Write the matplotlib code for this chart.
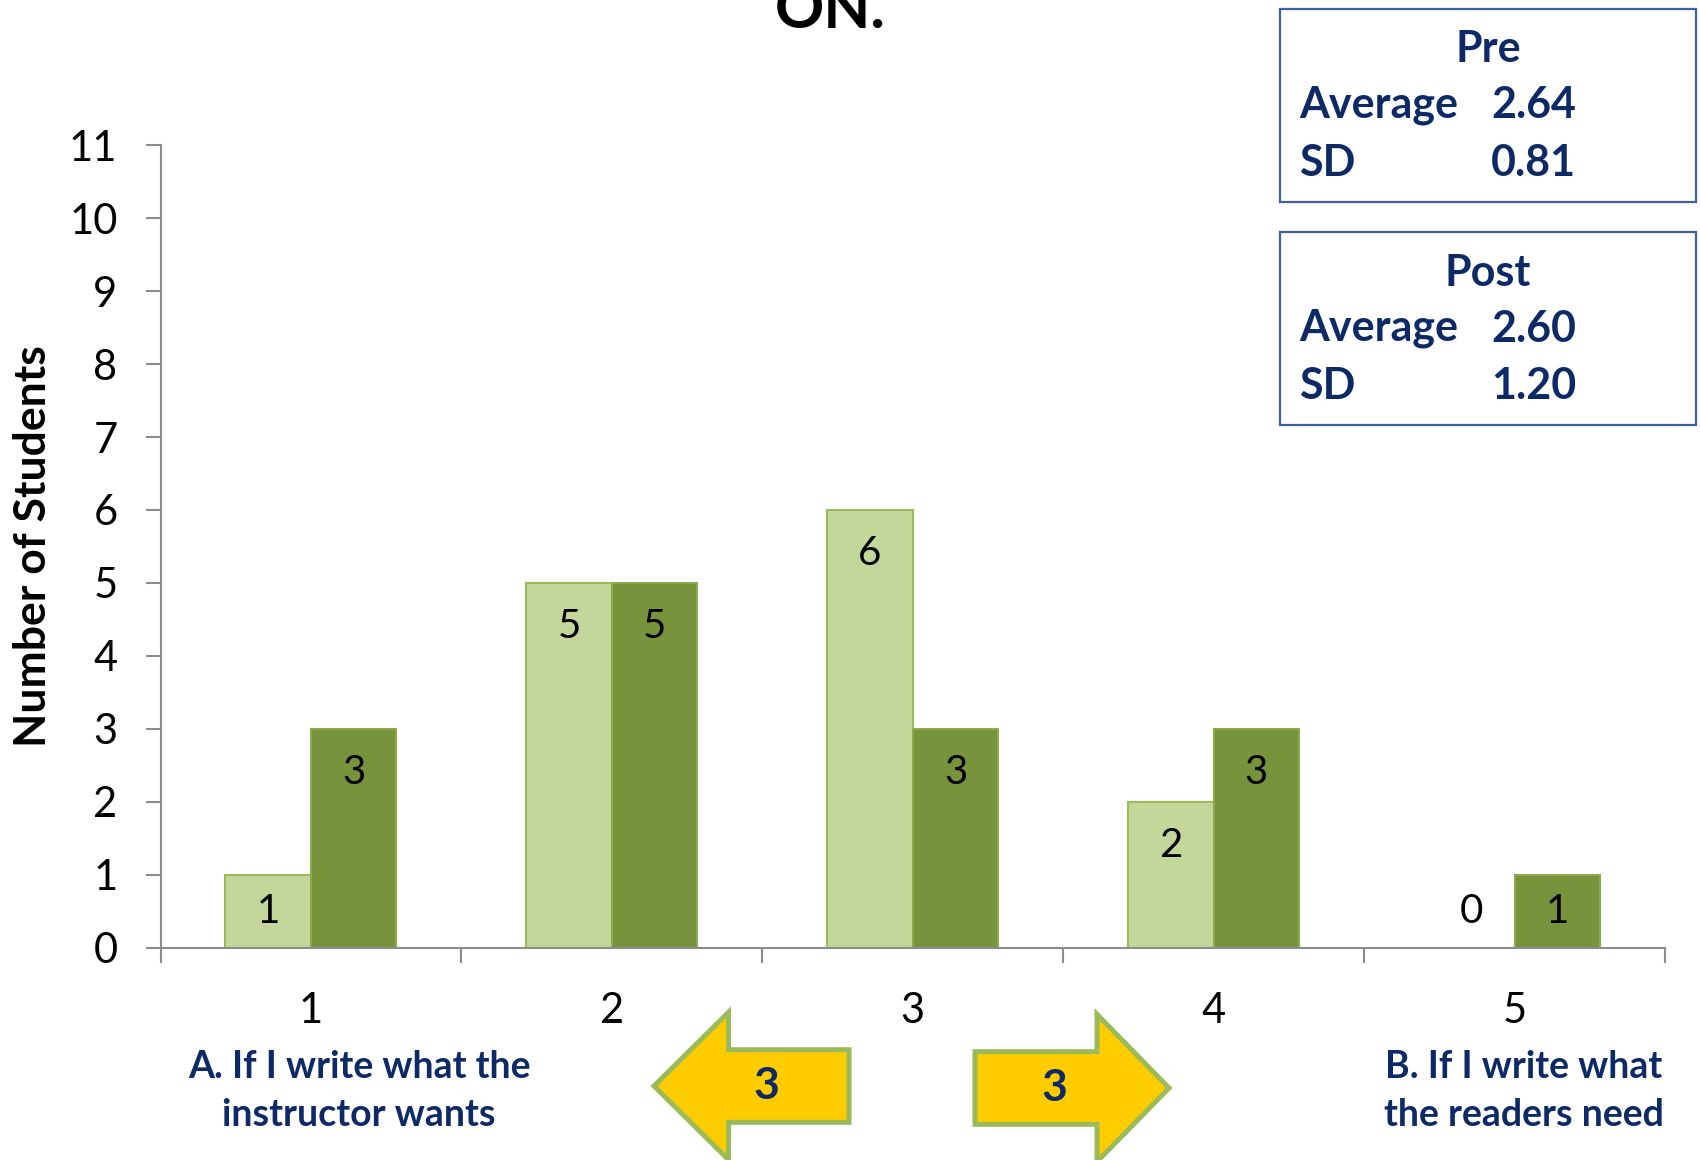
import matplotlib
matplotlib.use("Agg")
import matplotlib.pyplot as plt
from matplotlib.patches import Polygon, Rectangle
import numpy as np

plt.rcParams['font.family'] = ['Lato', 'DejaVu Sans']

# ---- data ----
categories = ["1", "2", "3", "4", "5"]
pre_counts = [1, 5, 6, 2, 0]
post_counts = [3, 5, 3, 3, 1]
y_ticks = list(range(0, 12))
left_anchor = "A. If I write what the\ninstructor wants"
right_anchor = "B. If I write what\nthe readers need"
pre_stats = {"Average": "2.64", "SD": "0.81"}
post_stats = {"Average": "2.60", "SD": "1.20"}
shift_left = "3"
shift_right = "3"

NAVY = "#0E2A66"
PRE_FILL = "#C4D79B"
PRE_EDGE = "#9BBB59"
POST_FILL = "#77933C"
POST_EDGE = "#8AAA4C"
AXIS_GRAY = "#8C8C8C"

W, H = 1700, 1160
fig = plt.figure(figsize=(W / 100, H / 100), dpi=100)

def fx(px):
    return px / W

def fy(py):
    return 1 - py / H

ax_left, ax_right, ax_top, ax_bot = 160.5, 1665, 145.3, 947.6
ax = fig.add_axes([fx(ax_left), fy(ax_bot), fx(ax_right - ax_left), (ax_bot - ax_top) / H])

x = np.arange(len(categories))
bw = 0.284
ax.bar(x - bw / 2, pre_counts, width=bw, color=PRE_FILL, edgecolor=PRE_EDGE, linewidth=1.5, zorder=2)
ax.bar(x + bw / 2, post_counts, width=bw, color=POST_FILL, edgecolor=POST_EDGE, linewidth=1.5, zorder=2)

# value labels sit just inside the bar tops (mid-bar for short bars)
for xs, vals in ((x - bw / 2, pre_counts), (x + bw / 2, post_counts)):
    for xi, v in zip(xs, vals):
        ax.text(xi, max(v - 0.6, 0.5), str(v), ha='center', va='center',
                fontsize=29, color='black', zorder=3)

ax.set_xlim(-0.5, len(categories) - 0.5)
ax.set_ylim(0, 11)
ax.set_yticks(y_ticks)
ax.set_yticklabels([str(t) for t in y_ticks], fontsize=30)
ax.tick_params(axis='y', direction='out', length=11, width=1.5, color=AXIS_GRAY, pad=20)

ax.set_xticks(np.arange(-0.5, len(categories)), minor=False)
ax.set_xticklabels([])
ax.tick_params(axis='x', which='major', direction='out', length=11, width=1.5, color=AXIS_GRAY)
ax.set_xticks(x, minor=True)
ax.set_xticklabels(categories, minor=True, fontsize=30)
ax.tick_params(axis='x', which='minor', length=0, pad=32)

for s in ('top', 'right'):
    ax.spines[s].set_visible(False)
for s in ('left', 'bottom'):
    ax.spines[s].set_color(AXIS_GRAY)
    ax.spines[s].set_linewidth(1.5)

fig.text(fx(33), fy(546), "Number of Students", rotation=90, ha='center', va='center',
         fontsize=32, fontweight='bold', color='black')

# title line, mostly above the top edge
fig.text(fx(830), fy(28), "ON.", ha='center', va='baseline', fontsize=44,
         fontweight='bold', color='black')

# anchor descriptions under the scale ends
fig.text(fx(359), fy(1091), left_anchor, ha='center', va='center', fontsize=27,
         fontweight='bold', color=NAVY, linespacing=1.5, multialignment='center')
fig.text(fx(1524), fy(1091), right_anchor, ha='center', va='center', fontsize=27,
         fontweight='bold', color=NAVY, linespacing=1.5, multialignment='center')

# summary boxes
def stats_box(y0, y1, title, stats):
    fig.patches.append(Rectangle((fx(1280), fy(y1)), fx(416), (y1 - y0) / H,
                                 transform=fig.transFigure, fill=False,
                                 edgecolor="#3E629A", linewidth=1.6))
    step = (y1 - y0)
    fig.text(fx(1488), fy(y0 + 0.21 * step), title, ha='center', va='center',
             fontsize=31, fontweight='bold', color=NAVY)
    for k, (name, val) in enumerate(stats.items()):
        yy = fy(y0 + (0.50 + 0.30 * k) * step)
        fig.text(fx(1299), yy, name, ha='left', va='center', fontsize=31,
                 fontweight='bold', color=NAVY)
        fig.text(fx(1491), yy, val, ha='left', va='center', fontsize=31,
                 fontweight='bold', color=NAVY)

stats_box(8.7, 201.6, "Pre", pre_stats)
stats_box(232, 425, "Post", post_stats)

# shift arrows
def arrow(tip, base, tail, cy, label, lx):
    bh, hh = 36.3, 73.7
    pts = [(tip, cy), (base, cy - hh), (base, cy - bh), (tail, cy - bh),
           (tail, cy + bh), (base, cy + bh), (base, cy + hh)]
    pts = [(fx(a), fy(b)) for a, b in pts]
    fig.patches.append(Polygon(pts, closed=True, transform=fig.transFigure,
                               facecolor="#FFCC00", edgecolor="#9BBB59", linewidth=3.6,
                               joinstyle='miter'))
    fig.text(fx(lx), fy(cy), label, ha='center', va='center', fontsize=32,
             fontweight='bold', color=NAVY)

arrow(654, 728.5, 849, 1086, shift_left, 766)
arrow(1169, 1097, 975, 1088, shift_right, 1054)

fig.savefig("out.png", dpi=100)
